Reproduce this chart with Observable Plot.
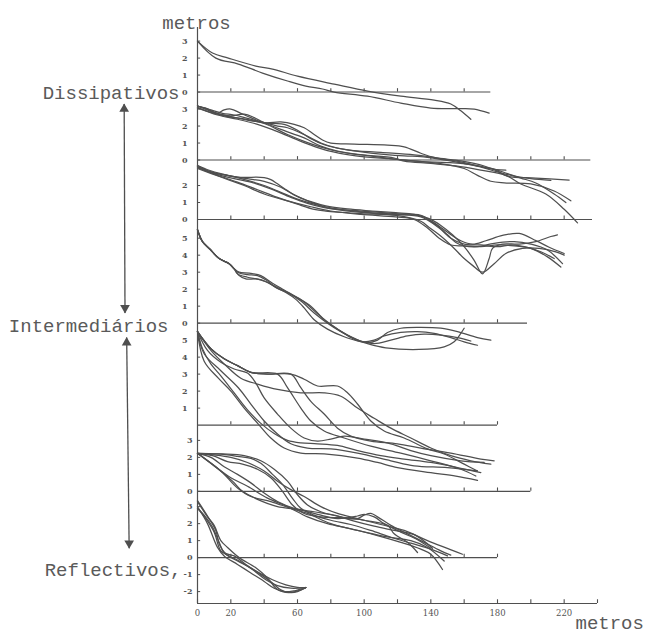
<!DOCTYPE html>
<html><head><meta charset="utf-8">
<script src="https://cdn.jsdelivr.net/npm/d3@7"></script>
<script src="https://cdn.jsdelivr.net/npm/@observablehq/plot@0.6"></script>
<style>body{margin:0;background:#fff} #chart svg{display:block;background:#fff}</style>
</head><body><div id="chart"></div>
<script>
// stacked beach profiles: baseline position of each panel (m on a common stack), baseline length (m), y tick labels
const panelOffsets = [30.1, 26.1, 22.6, 16.5, 10.5, 6.6, 2.7];
const baselineLengths = [176, 236, 237, 198, 180, 200, 180];
const panelTickLabels = [[3,2,1,0],[3,2,1,0],[2,1,0],[5,4,3,2,1,0],[5,4,3,2,1],[3,2,1,0],[3,2,1,0,-1,-2]];
const classNames = ["Dissipativos", "Intermediários", "Reflectivos,"];
const classPanels = [0, 3, 6];
const xTickValues = [0,20,40,60,80,100,120,140,160,180,200,220,240];
const xTickLabels = [0,20,60,100,140,180,220];

// profiles: [distance (m), elevation (m)]
const p1Profiles = [
  [[0,3.0],[9,2.3],[18.5,2.0],[35,1.53],[45,1.35],[60,0.94],[82,0.47],[102,0.06],[122,-0.24],[142,-0.47],[152,-0.7],[158,-1.1],[164,-1.6]],
  [[0,3.0],[11,2.0],[24.5,1.65],[39,1.12],[54,0.65],[65,0.35],[75,0.18],[82,0],[102,-0.24],[122,-0.65],[140,-0.94],[158,-0.97],[166,-1.0],[175,-1.24]]
];
const p2Profiles = [
  [[0,3.18],[5,3.05],[9,2.85],[12,2.75],[16,2.95],[20,3.0],[26,2.75],[32,2.5],[40,2.2],[50,2.24],[58,2.1],[64,1.9],[70,1.5],[75,1.18],[80,1.0],[94,0.94],[114,0.88],[124,0.78],[134,0.4],[142,0.15],[158,-0.05],[172,-0.35],[180,-0.65],[186,-0.95],[203,-1.06],[223,-1.18]],
  [[0,3.18],[8,2.95],[15,2.75],[22,2.65],[30,2.45],[40,2.2],[48,2.0],[54,1.9],[64,1.5],[74,1.0],[84,0.7],[104,0.41],[124,0.24],[134,0.2],[145,0.05],[162,-0.24],[178,-0.53],[186,-0.8],[194,-1.06],[203,-1.35],[214,-2.0],[221,-2.5]],
  [[0,3.18],[6,3.0],[12,2.7],[18,2.55],[26,2.45],[34,2.3],[40,2.18],[50,1.8],[64,1.3],[74,0.82],[84,0.53],[104,0.24],[118,0.06],[130,-0.05],[145,-0.2],[160,-0.5],[168,-0.9],[176,-1.25],[184,-1.35],[200,-1.41],[214,-1.82],[224,-2.4]],
  [[0,3.18],[10,2.8],[20,2.55],[30,2.35],[40,2.15],[54,1.5],[64,1.1],[78,0.65],[94,0.35],[118,0.12],[124,-0.06],[140,-0.2],[155,-0.35],[170,-0.6],[185,-0.9],[194,-1.41],[209,-2.0],[220,-2.9],[228,-3.7]],
  [[0,3.05],[10,2.75],[20,2.6],[28,2.7],[34,2.5],[40,2.2],[46,2.15],[52,2.1],[60,1.75],[68,1.25],[76,0.9],[90,0.6],[110,0.45],[130,0.3],[145,0.1],[160,-0.15],[175,-0.5],[185,-0.6]],
  [[0,3.1],[12,2.65],[24,2.4],[36,2.1],[46,1.75],[56,1.35],[66,0.95],[78,0.55],[95,0.25],[115,0.08],[135,-0.1],[150,-0.15],[165,-0.3],[180,-0.7],[190,-0.95],[200,-1.1],[212,-1.2]]
];
const p3Profiles = [
  [[0,3.18],[7,2.9],[14,2.7],[24,2.5],[40,2.47],[44,2.35],[48,2.1],[54,1.7],[60,1.35],[68,1.05],[77,0.8],[90,0.62],[105,0.5],[119,0.4],[130,0.3],[139,0.05],[146,-0.35],[153,-0.9],[160,-1.6],[166,-2.4],[171,-3.2],[175,-2.3],[177,-1.7],[183,-1.45],[193,-1.45],[203,-1.3],[212,-1.0],[216,-0.9]],
  [[0,3.1],[10,2.75],[20,2.55],[30,2.3],[40,2.0],[50,1.6],[60,1.2],[70,0.9],[80,0.65],[98,0.5],[119,0.35],[134,0.25],[142,-0.2],[150,-0.75],[158,-1.25],[165,-1.45],[173,-1.25],[183,-0.94],[193,-0.82],[203,-1.24],[211,-1.63],[220,-2.0]],
  [[0,3.05],[12,2.6],[24,2.2],[36,1.75],[48,1.3],[60,0.9],[70,0.6],[77,0.5],[98,0.35],[119,0.24],[134,-0.1],[139,-0.47],[145,-0.9],[153,-1.6],[160,-2.3],[165,-2.7],[171,-3.1],[178,-2.6],[185,-2.0],[195,-1.7],[205,-1.7],[215,-1.9],[220,-2.1]],
  [[0,3.0],[14,2.5],[28,2.0],[40,1.5],[54,1.1],[68,0.75],[80,0.5],[98,0.3],[119,0.15],[130,0.0],[138,-0.5],[145,-1.1],[152,-1.5],[160,-1.55],[170,-1.6],[180,-1.5],[190,-1.55],[200,-1.7],[210,-2.2],[218,-2.8]],
  [[0,3.18],[8,2.8],[18,2.6],[30,2.4],[40,2.25],[50,1.9],[58,1.45],[66,1.1],[77,0.75],[98,0.45],[119,0.3],[134,0.15],[145,-0.5],[152,-1.1],[160,-1.45],[170,-1.5],[180,-1.6],[188,-1.5],[196,-1.6],[206,-1.9],[214,-2.3]],
  [[0,3.1],[10,2.7],[20,2.45],[32,2.2],[44,1.8],[56,1.3],[66,0.95],[76,0.7],[95,0.45],[115,0.3],[134,0.2],[143,-0.3],[150,-0.9],[155,-1.35],[160,-1.55],[168,-1.6],[178,-1.4],[190,-1.3],[200,-1.45],[210,-1.8],[219,-2.6]]
];
const p4Profiles = [
  [[0,5.5],[3,4.8],[7.5,4.35],[13,3.8],[19,3.5],[22,3.2],[25,2.8],[29,2.6],[35,2.6],[41,2.45],[47,2.1],[53,1.8],[59,1.4],[64,0.9],[70,0.2],[78,-0.35],[88,-0.8],[100,-1.15],[113,-1.45],[133,-1.55],[148,-1.4],[154,-1.1],[158,-0.6],[160,-0.3]],
  [[0,5.5],[3,4.8],[7.5,4.35],[13,3.8],[19,3.5],[22,3.2],[25,2.95],[30,2.85],[36,2.8],[41,2.55],[47,2.1],[55,1.75],[62,1.3],[70,0.6],[78,0.0],[86,-0.5],[94,-0.9],[102,-1.15],[108,-1.0],[114,-0.55],[122,-0.3],[134,-0.25],[146,-0.3],[156,-0.5],[168,-0.85],[176,-1.0]],
  [[0,5.5],[3,4.8],[7.5,4.35],[13,3.8],[19,3.5],[22,3.2],[25,3.0],[31,2.95],[38,2.8],[45,2.35],[52,1.95],[60,1.5],[68,1.0],[75,0.3],[84,-0.35],[92,-0.85],[99,-1.1],[106,-1.0],[112,-0.75],[122,-0.55],[132,-0.5],[142,-0.6],[152,-0.85],[160,-1.1],[168,-1.3]],
  [[0,5.5],[3,4.8],[7.5,4.35],[13,3.8],[19,3.5],[22,3.2],[24,2.9],[30,2.7],[38,2.55],[46,2.2],[56,1.7],[64,1.25],[72,0.55],[80,-0.1],[90,-0.7],[98,-1.05],[106,-1.2],[116,-1.0],[126,-0.75],[136,-0.65],[146,-0.7],[156,-0.85],[164,-1.05]]
];
const p5Profiles = [
  [[0,5.5],[8,4.5],[16,3.9],[24,3.5],[32,3.1],[42,3.0],[56,3.0],[64,2.7],[72,2.3],[84,2.3],[90,1.9],[96,1.24],[104,0.24],[112,-0.35],[124,-0.76],[138,-1.4],[148,-1.7],[160,-2.3],[168,-2.7]],
  [[0,5.5],[4,3.76],[12.5,2.76],[20,2.0],[28,1.0],[36.5,0.06],[44,-0.76],[52,-1.35],[62,-1.65],[76,-1.7],[96,-1.94],[108,-2.2],[120,-2.5],[140,-2.8],[155,-3.0],[168,-3.25]],
  [[0,5.5],[4,4.2],[14,3.2],[24.5,2.2],[32,1.24],[40,0.24],[48,-0.53],[56,-1.1],[66,-1.35],[80,-1.4],[96,-1.65],[116,-2.1],[130,-2.4],[150,-2.5],[168,-2.7]],
  [[0,5.5],[8.4,4.35],[16,3.6],[26,2.76],[36.5,2.4],[48,2.1],[62,1.9],[76,1.9],[86,1.7],[96,1.0],[106,0.4],[116,-0.18],[128,-0.76],[140,-1.35],[152,-1.8],[164,-2.1],[176,-2.3]],
  [[0,5.5],[6,4.4],[14,3.7],[22,3.3],[30,3.06],[35,2.47],[40,1.6],[48,0.65],[56,-0.18],[64,-0.76],[72,-0.94],[80,-0.82],[88,-0.65],[100,-0.82],[116,-1.1],[128,-1.5],[140,-1.8],[158,-2.1],[172,-2.2]],
  [[0,5.5],[8,4.5],[16,3.9],[24,3.5],[32,3.1],[42,3.0],[56,3.0],[62,2.2],[68,1.4],[76,0.65],[84,-0.18],[92,-0.65],[104,-0.94],[120,-1.1],[134,-1.35],[152,-1.65],[170,-2.0],[178,-2.1]],
  [[0,5.5],[8,4.5],[16,3.9],[24,3.5],[32,3.1],[48,3.0],[54,2.2],[62,1.0],[68,0.24],[76,-0.35],[88,-0.76],[104,-1.24],[122,-1.65],[140,-2.1],[158,-2.6],[167,-3.0]],
  [[0,5.5],[3,4.5],[8,3.6],[14,2.9],[22,1.9],[30,0.9],[38,0.1],[46,-0.5],[54,-0.9],[62,-1.05],[72,-1.1],[84,-1.2],[96,-1.5],[110,-1.8],[124,-2.0],[140,-2.2],[156,-2.5],[170,-2.8]]
];
const p6Profiles = [
  [[0,2.24],[12,2.2],[24,2.06],[32,1.94],[38,1.65],[45,1.0],[51,0.41],[57,-0.41],[62,-1.0],[70,-1.4],[80,-1.7],[92,-1.95],[104,-2.3],[116,-2.7],[128,-3.05],[140,-3.4],[150,-3.8]],
  [[0,2.24],[9,2.1],[18,1.75],[27,1.6],[36,1.3],[44,0.8],[51,0.0],[57,-0.8],[64,-1.3],[74,-1.5],[86,-1.55],[96,-1.6],[100,-1.4],[104,-1.3],[108,-1.5],[116,-2.0],[126,-2.5],[136,-3.0],[146,-3.5],[152,-3.75]],
  [[0,2.24],[12,1.35],[21,0.6],[27,0.0],[36,-0.47],[48,-0.9],[60,-1.06],[72,-1.35],[84,-1.6],[96,-1.45],[100,-1.35],[106,-1.5],[112,-1.9],[122,-2.4],[132,-2.85],[140,-3.35]],
  [[0,2.24],[14,1.2],[24,0.2],[32,-0.3],[44,-0.6],[56,-1.0],[66,-1.3],[80,-1.9],[96,-2.3],[112,-2.65],[128,-2.9],[138,-3.3],[148,-4.1]],
  [[0,2.24],[10,1.5],[20,0.8],[30,0.3],[42,-0.4],[54,-0.9],[66,-1.5],[78,-1.9],[92,-2.2],[108,-2.6],[122,-3.0],[134,-3.4],[140,-3.7],[147,-4.6]],
  [[0,2.24],[15,2.2],[28,2.1],[38,1.8],[46,1.3],[54,0.6],[60,-0.2],[66,-0.8],[74,-1.2],[86,-1.5],[100,-1.7],[114,-2.0],[118,-2.5],[126,-3.0],[132,-3.6]],
  [[0,2.24],[8,2.0],[16,1.45],[24,1.0],[32,0.5],[40,-0.1],[48,-0.6],[58,-1.0],[70,-1.2],[82,-1.4],[94,-1.75],[106,-2.05],[118,-2.3],[130,-2.55],[141,-3.35]],
  [[0,2.24],[10,2.15],[20,2.0],[30,1.7],[40,1.2],[48,0.6],[56,0.1],[64,-0.3],[74,-0.9],[84,-1.3],[96,-1.6],[110,-1.95],[124,-2.3],[138,-2.9],[159,-3.7]]
];
const p7Profiles = [
  [[0,3.35],[5,2.6],[11,1.6],[13,0.8],[17,0.2],[22,-0.1],[30,-0.5],[38,-1.0],[45,-1.5],[50,-1.9],[55,-2.05],[60,-2.0],[65,-1.76]],
  [[0,2.9],[5,2.3],[10,1.5],[14,0.4],[19,0.1],[25,-0.2],[33,-0.7],[41,-1.3],[48,-1.65],[56,-1.8],[65,-1.76]],
  [[0,2.9],[4,2.5],[9,1.8],[13,0.9],[16,0.3],[22,0.1],[29,-0.4],[37,-0.9],[45,-1.3],[53,-1.6],[60,-1.75],[65,-1.76]],
  [[0,3.3],[6,2.4],[10,1.9],[14,1.0],[18,0.6],[25,0.0],[35,-0.6],[42,-1.2],[47,-1.8],[51,-2.0],[56,-2.05],[62,-1.9],[65,-1.76]],
  [[0,3.0],[6,2.0],[12,0.6],[16,0.1],[24,-0.4],[32,-0.9],[40,-1.4],[46,-1.8],[52,-2.0],[58,-1.95],[65,-1.76]]
];
const allProfiles = [p1Profiles, p2Profiles, p3Profiles, p4Profiles, p5Profiles, p6Profiles, p7Profiles];

const yTop = 33.9;
const ink = "#4f4f4f";
const textInk = "#5a5a5a";

const panels = panelOffsets.map((offset, i) => ({i, offset, length: baselineLengths[i]}));
const lineRows = [];
allProfiles.forEach((profs, i) => profs.forEach((prof, j) =>
  prof.forEach(([d, e]) => lineRows.push({line: i + "-" + j, x: d, y: panelOffsets[i] + e}))));
const baseTickRows = [];
panels.forEach(p => { for (let t = 20; t <= p.length; t += 20) baseTickRows.push({x: t, y: p.offset}); });
const yLabelRows = [];
panelTickLabels.forEach((labs, i) => labs.forEach(v => yLabelRows.push({panel: i, y: panelOffsets[i] + v, text: String(v)})));

// double arrows between the class labels (from panel to panel)
const arrowRows = [
  {x1: -44, x2: -43.5, y1: panelOffsets[classPanels[0]] - 0.7, y2: panelOffsets[classPanels[1]] + 0.6},
  {x1: -42.5, x2: -41, y1: panelOffsets[classPanels[1]] - 0.85, y2: panelOffsets[classPanels[2]] + 0.55}
];
const headRows = arrowRows.flatMap(a => [
  {x: a.x1, y: a.y1 - 0.3, rotate: 0},
  {x: a.x2, y: a.y2 + 0.3, rotate: 180}
]);

const monoText = {fontFamily: "Liberation Mono", fontSize: 19, fill: textInk};

const chart = Plot.plot({
  width: 647, height: 637,
  marginLeft: 197, marginRight: 50, marginTop: 27, marginBottom: 34,
  x: {domain: [0, 240], axis: null},
  y: {domain: [0, yTop], axis: null},
  style: {background: "#fff"},
  marks: [
    // y axis
    Plot.ruleX([0], {x: d => d, y1: () => 0, y2: () => yTop, stroke: ink, strokeWidth: 1.2}),
    Plot.link(yLabelRows, {x1: () => 0, x2: () => 1.6, y1: "y", y2: "y", stroke: ink, strokeWidth: 1}),
    Plot.text(yLabelRows.filter(d => d.panel < 5), {x: () => 0, y: "y", text: "text", dx: -10, textAnchor: "end", fontSize: 8, fontWeight: "bold", fontFamily: "DejaVu Serif", fill: "#555"}),
    Plot.text(yLabelRows.filter(d => d.panel >= 5), {x: () => 0, y: "y", text: "text", dx: -5, textAnchor: "end", fontSize: 8, fontWeight: "bold", fontFamily: "DejaVu Serif", fill: "#555"}),
    // panel baselines with ticks
    Plot.ruleY(panels, {y: "offset", x1: () => 0, x2: "length", stroke: ink, strokeWidth: 1.1}),
    Plot.ruleX(baseTickRows, {x: "x", y1: "y", y2: d => d.y + 0.2, stroke: ink, strokeWidth: 1.1}),
    // bottom x axis
    Plot.ruleY([0], {y: d => d, x1: () => 0, x2: () => 240, stroke: ink, strokeWidth: 1.2}),
    Plot.ruleX(xTickValues, {x: d => d, y1: () => 0, y2: () => 0.22, stroke: ink, strokeWidth: 1.1}),
    Plot.text(xTickLabels, {x: d => d, y: () => 0, text: d => String(d), dy: 10, fontSize: 8.5, fontFamily: "DejaVu Serif", fill: "#555"}),
    // profiles
    Plot.line(lineRows, {x: "x", y: "y", z: "line", curve: "catmull-rom", stroke: ink, strokeWidth: 1.25, strokeLinejoin: "round"}),
    // classes and arrows
    Plot.text([classNames[0]], {x: () => 0, y: () => panelOffsets[classPanels[0]], text: d => d, dx: -18, dy: 1, textAnchor: "end", ...monoText}),
    Plot.text([classNames[1]], {x: () => 0, y: () => panelOffsets[classPanels[1]], text: d => d, dx: -29, dy: 3, textAnchor: "end", ...monoText}),
    Plot.text([classNames[2]], {x: () => 0, y: () => panelOffsets[classPanels[2]], text: d => d, dx: -16, dy: 12, textAnchor: "end", ...monoText}),
    Plot.link(arrowRows, {x1: "x1", x2: "x2", y1: "y1", y2: "y2", stroke: ink, strokeWidth: 1.3}),
    Plot.dot(headRows, {x: "x", y: "y", rotate: "rotate", symbol: "triangle", r: 3.6, fill: ink, stroke: "none"}),
    Plot.text(["metros"], {frameAnchor: "top-left", dx: -1, dy: -12, textAnchor: "middle", ...monoText}),
    Plot.text(["metros"], {frameAnchor: "bottom-right", dx: -22, dy: 25, textAnchor: "start", ...monoText})
  ]
});
document.getElementById("chart").append(chart);
</script></body></html>
